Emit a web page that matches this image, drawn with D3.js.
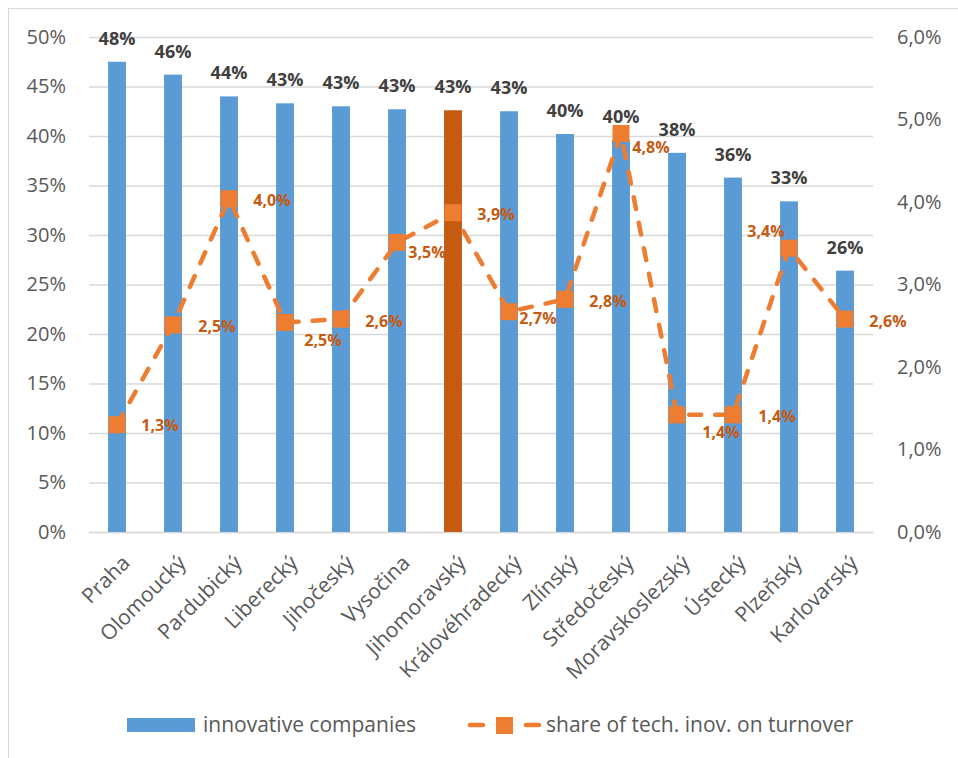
<!DOCTYPE html>
<html>
<head>
<meta charset="utf-8">
<script src="https://cdn.jsdelivr.net/npm/d3@7"></script>
<style>
  html, body { margin: 0; padding: 0; background: #fff; }
  svg { display: block; font-family: "Open Sans", "Liberation Sans", sans-serif; }
</style>
</head>
<body>
<svg id="chart" width="958" height="758"></svg>
<script>
// Regions of the Czech Republic
const categories = ["Praha", "Olomoucký", "Pardubický", "Liberecký", "Jihočeský", "Vysočina",
  "Jihomoravský", "Královéhradecký", "Zlínský", "Středočeský", "Moravskoslezský", "Ústecký",
  "Plzeňský", "Karlovarský"];

// Share of innovative companies (%), left axis
const innovativeCompanies = [47.5, 46.2, 44.0, 43.3, 43.0, 42.7, 42.6, 42.5, 40.2, 39.6, 38.3, 35.8, 33.4, 26.4];

// Share of technical innovations on turnover (%), right axis
const techInnovationShare = [1.30, 2.51, 4.04, 2.54, 2.58, 3.51, 3.87, 2.67, 2.82, 4.83, 1.42, 1.42, 3.44, 2.58];

// Axis ticks
const leftTicks = [0, 5, 10, 15, 20, 25, 30, 35, 40, 45, 50];
const rightTicks = [0, 1, 2, 3, 4, 5, 6];

// Legend entries
const seriesNames = ["innovative companies", "share of tech. inov. on turnover"];

// Highlighted region
const highlighted = "Jihomoravský";

// Placement of the line's value labels relative to each marker
const lineLabelOffsets = [[43, 1], [44, 2], [43, 2], [38, 18], [43, 2], [30, 10], [43, 2],
  [29, 7], [43, 2], [30, 14], [44, 18], [44, 2], [-23, -17], [43, 2]];

const BLUE = "#5B9BD5", ORANGE = "#ED7D31", DARK_ORANGE = "#C55A11";
const GRID = "#D9D9D9", AXIS_TEXT = "#595959", LABEL_TEXT = "#404040";

const svg = d3.select("#chart");
const plot = { left: 89, right: 873, top: 37, bottom: 532 };

const czLocale = d3.formatLocale({ decimal: ",", thousands: " ", grouping: [3], currency: ["", " Kč"] });
const fmtPct1 = v => czLocale.format(".1f")(v) + "%";

const x = d3.scaleBand().domain(categories).range([plot.left, plot.right])
  .paddingInner(0.68).paddingOuter(0.34);
const yLeft = d3.scaleLinear().domain([0, 50]).range([plot.bottom, plot.top]);
const yRight = d3.scaleLinear().domain([0, 6]).range([plot.bottom, plot.top]);

// Outer chart border
svg.append("rect").attr("x", 8.5).attr("y", 8.5).attr("width", 1000).attr("height", 1000)
  .attr("fill", "none").attr("stroke", GRID).attr("stroke-width", 1);

// Gridlines + left axis
const leftAxis = svg.append("g").attr("transform", `translate(${plot.left},0)`)
  .call(d3.axisLeft(yLeft).tickValues(leftTicks).tickFormat(d => d + "%")
    .tickSize(-(plot.right - plot.left)).tickPadding(23));
leftAxis.select(".domain").remove();
leftAxis.selectAll(".tick line").attr("stroke", GRID).attr("stroke-width", 1.3);
leftAxis.selectAll(".tick text").attr("fill", AXIS_TEXT).attr("font-size", 20)
  .attr("font-family", "Open Sans");

// Right axis
const rightAxis = svg.append("g").attr("transform", `translate(${plot.right},0)`)
  .call(d3.axisRight(yRight).tickValues(rightTicks).tickFormat(fmtPct1).tickSize(0).tickPadding(24));
rightAxis.select(".domain").remove();
rightAxis.selectAll(".tick text").attr("fill", AXIS_TEXT).attr("font-size", 20)
  .attr("font-family", "Open Sans");

// Category axis
const bottomAxis = svg.append("g").attr("transform", `translate(0,${plot.bottom})`)
  .call(d3.axisBottom(x).tickSize(0).tickPadding(0));
bottomAxis.select(".domain").attr("stroke", GRID).attr("stroke-width", 1.3);
bottomAxis.selectAll(".tick text")
  .attr("fill", AXIS_TEXT).attr("font-size", 21).attr("font-family", "Open Sans")
  .attr("text-anchor", "end").attr("dy", "0.35em")
  .attr("transform", "translate(9,27) rotate(-45)");

// Bars
const barData = categories.map((c, i) => ({ c, v: innovativeCompanies[i] }));
svg.append("g").selectAll("rect").data(barData).join("rect")
  .attr("x", d => x(d.c)).attr("width", x.bandwidth())
  .attr("y", d => yLeft(d.v)).attr("height", d => yLeft(0) - yLeft(d.v))
  .attr("fill", d => d.c === highlighted ? DARK_ORANGE : BLUE);

// Bar value labels
svg.append("g").selectAll("text").data(barData).join("text")
  .attr("x", d => x(d.c) + x.bandwidth() / 2).attr("y", d => yLeft(d.v) - 17)
  .attr("text-anchor", "middle").attr("font-size", 18).attr("font-weight", 700)
  .attr("fill", LABEL_TEXT).text(d => Math.round(d.v) + "%");

// Line series
const lineData = categories.map((c, i) => ({ c, v: techInnovationShare[i], off: lineLabelOffsets[i] }));
const cx = d => x(d.c) + x.bandwidth() / 2;
svg.append("path").datum(lineData)
  .attr("d", d3.line().x(cx).y(d => yRight(d.v)))
  .attr("fill", "none").attr("stroke", ORANGE).attr("stroke-width", 4.5)
  .attr("stroke-linecap", "round").attr("stroke-dasharray", "12,14");

const MS = 17;
svg.append("g").selectAll("rect").data(lineData).join("rect")
  .attr("x", d => cx(d) - MS / 2).attr("y", d => yRight(d.v) - MS / 2)
  .attr("width", MS).attr("height", MS).attr("fill", ORANGE);

svg.append("g").selectAll("text").data(lineData).join("text")
  .attr("x", d => cx(d) + d.off[0]).attr("y", d => yRight(d.v) + d.off[1] + 5.5)
  .attr("text-anchor", "middle").attr("font-size", 16).attr("font-weight", 700)
  .attr("fill", DARK_ORANGE).text(d => fmtPct1(d.v));

// Legend
const legend = svg.append("g");
legend.append("rect").attr("x", 127).attr("y", 718).attr("width", 68).attr("height", 14).attr("fill", BLUE);
legend.append("text").attr("x", 203).attr("y", 732).attr("font-size", 21)
  .attr("fill", AXIS_TEXT).text(seriesNames[0]);
legend.append("line").attr("x1", 470).attr("x2", 539).attr("y1", 725).attr("y2", 725)
  .attr("stroke", ORANGE).attr("stroke-width", 4.5).attr("stroke-linecap", "round")
  .attr("stroke-dasharray", "13,15");
legend.append("rect").attr("x", 496).attr("y", 717).attr("width", MS).attr("height", MS).attr("fill", ORANGE);
legend.append("text").attr("x", 546).attr("y", 732).attr("font-size", 21)
  .attr("fill", AXIS_TEXT).text(seriesNames[1]);
</script>
</body>
</html>
